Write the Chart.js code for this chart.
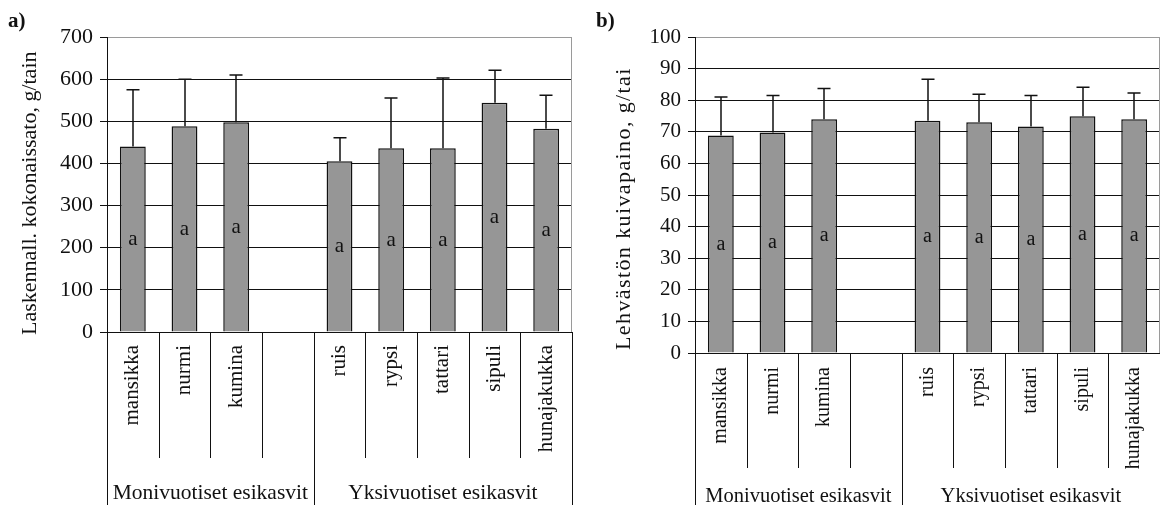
<!DOCTYPE html>
<html lang="fi">
<head>
  <meta charset="UTF-8">
  <title>Esikasvien vaikutus</title>
  <script src="https://cdn.jsdelivr.net/npm/chart.js"></script>
  <style>
    html, body { margin: 0; padding: 0; background: #fff; }
    .wrap { position: relative; width: 1160px; height: 505px; overflow: hidden; }
    .panel { position: absolute; top: 0; width: 580px; height: 505px; }
    #panelA { left: 0; }
    #panelB { left: 580px; }
  </style>
</head>
<body>
  <div class="wrap">
    <div class="panel" id="panelA"><canvas id="chartA" width="580" height="505"></canvas></div>
    <div class="panel" id="panelB"><canvas id="chartB" width="580" height="505"></canvas></div>
  </div>

  <script>
    // esikasvit, tyhjä paikka ryhmien välissä
    const categories = ['mansikka', 'nurmi', 'kumina', '', 'ruis', 'rypsi', 'tattari', 'sipuli', 'hunajakukka'];
    const groupNames = ['Monivuotiset esikasvit', 'Yksivuotiset esikasvit'];
    const groupSizes = [4, 5];

    // a) laskennallinen kokonaissato, g/tain
    const yieldMean = [440, 488, 498, null, 405, 436, 436, 544, 482];
    const yieldSd = [135, 112, 112, null, 56, 119, 167, 77, 80];
    const yieldLetters = ['a', 'a', 'a', '', 'a', 'a', 'a', 'a', 'a'];

    // b) lehvästön kuivapaino, g/tain
    const leafMean = [68.8, 69.8, 74.0, null, 73.5, 73.0, 71.7, 74.9, 74.0];
    const leafSd = [12.2, 11.7, 9.7, null, 13.1, 8.9, 9.8, 9.2, 8.3];
    const leafLetters = ['a', 'a', 'a', '', 'a', 'a', 'a', 'a', 'a'];

    const SERIF = '"Liberation Serif", "Times New Roman", serif';
    const INK = '#111';
    const FRAME = '#9a9a9a';

    // error bars, letters, category boxes and titles
    const decorations = {
      id: 'decorations',
      afterDatasetsDraw(chart, args, o) {
        const { ctx, scales: { y } } = chart;
        const bars = chart.getDatasetMeta(0).data;
        const means = chart.data.datasets[0].data;
        ctx.save();
        ctx.strokeStyle = INK;
        ctx.lineWidth = 1.5;
        means.forEach((m, i) => {
          if (m == null) return;
          const x = Math.round(bars[i].x);
          const y0 = y.getPixelForValue(m);
          const y1 = y.getPixelForValue(m + o.sd[i]);
          ctx.beginPath();
          ctx.moveTo(x, y0);
          ctx.lineTo(x, y1);
          ctx.moveTo(x - 6.5, y1);
          ctx.lineTo(x + 6.5, y1);
          ctx.stroke();
        });
        ctx.fillStyle = INK;
        ctx.font = o.letterSize + 'px ' + SERIF;
        ctx.textAlign = 'center';
        ctx.textBaseline = 'middle';
        means.forEach((m, i) => {
          if (m == null) return;
          ctx.fillText(o.letters[i], bars[i].x, y.getPixelForValue(m / 2));
        });
        ctx.restore();
      },
      afterDraw(chart, args, o) {
        const { ctx, chartArea: a, scales: { x } } = chart;
        const labels = chart.data.labels;
        const n = labels.length;
        const slot = (a.right - a.left) / n;
        const H = chart.height;
        ctx.save();

        ctx.strokeStyle = FRAME;
        ctx.lineWidth = 1;
        ctx.beginPath();
        ctx.moveTo(Math.round(a.right) - 0.5, a.top);
        ctx.lineTo(Math.round(a.right) - 0.5, a.bottom);
        ctx.stroke();

        // group edges run to the bottom, category edges stop short
        const groupEdges = [0];
        groupSizes.forEach(s => groupEdges.push(groupEdges[groupEdges.length - 1] + s));
        ctx.strokeStyle = INK;
        for (let i = 0; i <= n; i++) {
          const px = Math.round(a.left + i * slot) + 0.5;
          const end = groupEdges.includes(i) ? H : a.bottom + o.divLen;
          ctx.beginPath();
          ctx.moveTo(px, a.bottom);
          ctx.lineTo(px, end);
          ctx.stroke();
        }

        ctx.fillStyle = INK;
        ctx.font = o.catSize + 'px ' + SERIF;
        labels.forEach((lab, i) => {
          if (!lab) return;
          ctx.save();
          ctx.translate(x.getPixelForValue(i), a.bottom + o.labelGap);
          ctx.rotate(-Math.PI / 2);
          ctx.textAlign = 'right';
          ctx.textBaseline = 'middle';
          ctx.fillText(lab, 0, 0);
          ctx.restore();
        });

        ctx.font = o.groupSize + 'px ' + SERIF;
        ctx.textAlign = 'center';
        ctx.textBaseline = 'middle';
        groupNames.forEach((g, k) => {
          const cx = a.left + (groupEdges[k] + groupEdges[k + 1]) / 2 * slot;
          ctx.fillText(g, cx, o.groupY);
        });

        ctx.save();
        ctx.font = o.titleSize + 'px ' + SERIF;
        ctx.letterSpacing = o.titleSpacing;
        ctx.translate(o.titleX, o.titleY);
        ctx.rotate(-Math.PI / 2);
        ctx.textAlign = 'left';
        ctx.fillText(o.title, 0, 0);
        ctx.restore();

        ctx.font = 'bold 21px ' + SERIF;
        ctx.textAlign = 'left';
        ctx.textBaseline = 'alphabetic';
        ctx.fillText(o.panel, o.panelX, 27);
        ctx.restore();
      }
    };

    function makeChart(id, means, sd, letters, opt) {
      return new Chart(document.getElementById(id), {
        type: 'bar',
        data: {
          labels: categories,
          datasets: [{
            data: means,
            backgroundColor: '#969696',
            borderColor: INK,
            borderWidth: 1.5,
            categoryPercentage: 1,
            barPercentage: 0.5
          }]
        },
        options: {
          responsive: false,
          animation: false,
          layout: { padding: { left: 0, top: opt.top, right: opt.right, bottom: opt.bottom } },
          scales: {
            x: { display: false },
            y: {
              min: 0,
              max: opt.max,
              afterFit: s => { s.width = opt.axisWidth; },
              ticks: {
                stepSize: opt.step,
                color: INK,
                padding: 7,
                font: { family: SERIF, size: opt.tickSize }
              },
              grid: {
                color: c => (c.tick && c.tick.value === opt.max ? FRAME : INK),
                tickColor: INK,
                tickLength: 7,
                lineWidth: 1
              },
              border: { color: INK, width: 1 }
            }
          },
          plugins: {
            legend: { display: false },
            tooltip: { enabled: false },
            decorations: {
              sd: sd,
              letters: letters,
              title: opt.title,
              titleX: opt.titleX,
              titleY: opt.titleY,
              titleSize: opt.titleSize,
              titleSpacing: opt.titleSpacing,
              catSize: opt.catSize,
              groupSize: opt.groupSize,
              letterSize: opt.letterSize,
              panel: opt.panel,
              panelX: opt.panelX,
              divLen: opt.divLen,
              labelGap: opt.labelGap,
              groupY: opt.groupY
            }
          }
        },
        plugins: [decorations]
      });
    }

    makeChart('chartA', yieldMean, yieldSd, yieldLetters, {
      max: 700, step: 100, top: 37, right: 8, bottom: 173, axisWidth: 107,
      tickSize: 22, titleSize: 22, titleSpacing: '0px', catSize: 21, groupSize: 21.5, letterSize: 21,
      title: 'Laskennall. kokonaissato, g/tain', titleX: 30, titleY: 335,
      panel: 'a)', panelX: 8, divLen: 126, labelGap: 13, groupY: 493
    });

    makeChart('chartB', leafMean, leafSd, leafLetters, {
      max: 100, step: 10, top: 37, right: 0, bottom: 152, axisWidth: 115,
      tickSize: 21, titleSize: 22, titleSpacing: '1.4px', catSize: 20, groupSize: 20.5, letterSize: 20,
      title: 'Lehvästön kuivapaino, g/tai', titleX: 44, titleY: 350,
      panel: 'b)', panelX: 16, divLen: 115, labelGap: 14, groupY: 497
    });
  </script>
</body>
</html>
